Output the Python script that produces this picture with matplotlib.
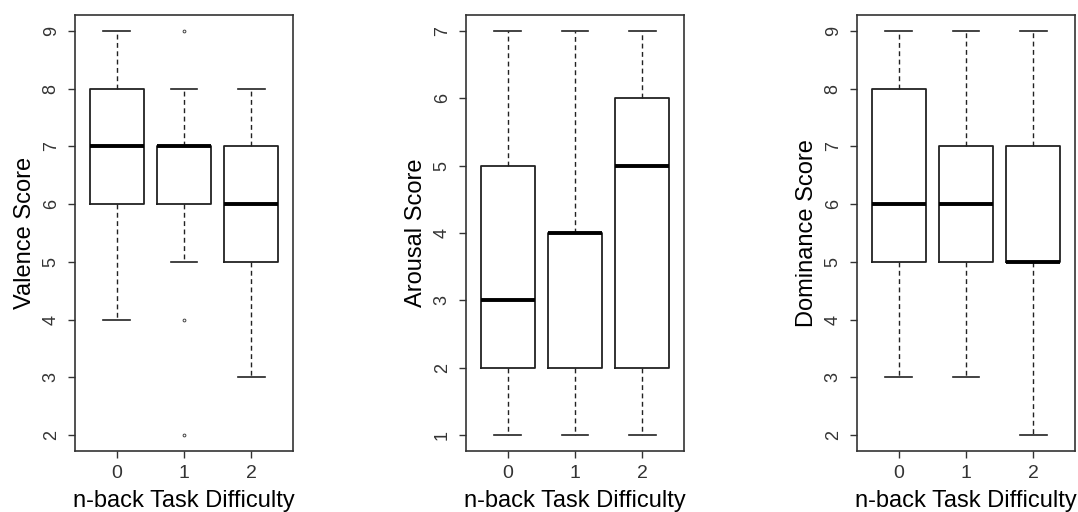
import matplotlib.pyplot as plt

plt.rcParams['font.family'] = ['Liberation Sans', 'DejaVu Sans']

groups = ["0", "1", "2"]

# five-number summaries per difficulty level: (whislo, q1, med, q3, whishi)
valence_stats = [(4, 6, 7, 8, 9), (5, 6, 7, 7, 8), (3, 5, 6, 7, 8)]
valence_fliers = [[], [9, 4, 2], []]
arousal_stats = [(1, 2, 3, 5, 7), (1, 2, 4, 4, 7), (1, 2, 5, 6, 7)]
arousal_fliers = [[], [], []]
dominance_stats = [(3, 5, 6, 8, 9), (3, 5, 6, 7, 9), (2, 5, 5, 7, 9)]
dominance_fliers = [[], [], []]

panels = [
    ("Valence Score", valence_stats, valence_fliers, [2, 3, 4, 5, 6, 7, 8, 9]),
    ("Arousal Score", arousal_stats, arousal_fliers, [1, 2, 3, 4, 5, 6, 7]),
    ("Dominance Score", dominance_stats, dominance_fliers, [2, 3, 4, 5, 6, 7, 8, 9]),
]

W, H = 1078, 512
fig = plt.figure(figsize=(W / 100, H / 100), dpi=100)
lefts = [75, 466, 857]
axcol = "#333333"

for left, (ylabel, stats, fliers, yticks) in zip(lefts, panels):
    ax = fig.add_axes([left / W, (H - 451) / H, 218 / W, 436 / H])
    bx = []
    for g, s, f in zip(groups, stats, fliers):
        bx.append(dict(label=g, whislo=s[0], q1=s[1], med=s[2], q3=s[3], whishi=s[4], fliers=f))
    ax.bxp(bx, positions=[1, 2, 3], widths=0.8, patch_artist=False,
           boxprops=dict(color="#222222", linewidth=1.3),
           medianprops=dict(color="black", linewidth=2.8, solid_capstyle="butt"),
           whiskerprops=dict(color="#222222", linewidth=1.0, linestyle=(0, (3.5, 2.5))),
           capprops=dict(color="#222222", linewidth=1.2),
           capwidths=0.4,
           flierprops=dict(marker="o", markersize=2, markerfacecolor="none",
                           markeredgecolor="#444444", markeredgewidth=0.7))
    # R-style axis extension: 4% beyond the data range
    lo, hi = yticks[0], yticks[-1]
    pad = (hi - lo) * 0.04
    ax.set_ylim(lo - pad, hi + pad)
    ax.set_xlim(0.5 - 0.12, 3.5 + 0.12)
    ax.set_yticks(yticks)
    ax.set_yticklabels([str(t) for t in yticks], rotation=90, va="center", fontsize=13, color="#333333")
    ax.set_xticks([1, 2, 3])
    ax.set_xticklabels(groups, fontsize=14, color="#333333")
    ax.tick_params(length=5, width=1, color=axcol, pad=5)
    ax.tick_params(axis="y", pad=6)
    for sp in ax.spines.values():
        sp.set_color(axcol)
        sp.set_linewidth(1.2)
    ax.set_xlabel("n-back Task Difficulty", fontsize=17, labelpad=6)
    ax.set_ylabel(ylabel, fontsize=17, labelpad=5)

fig.savefig("out.png", dpi=100)
